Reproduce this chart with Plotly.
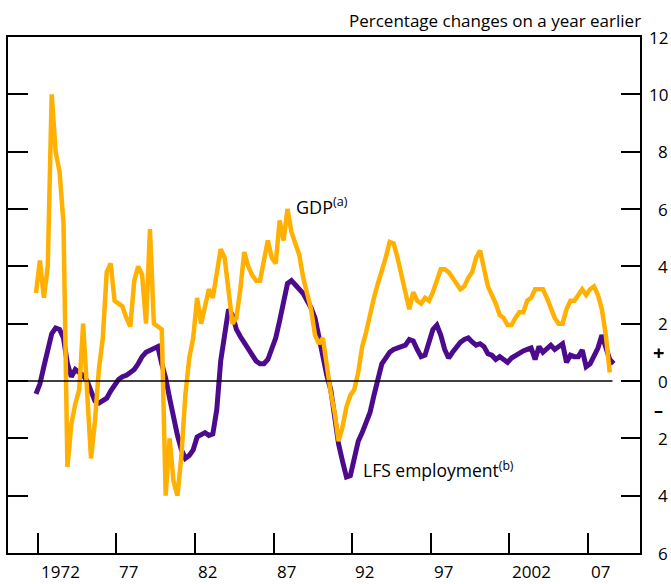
import plotly.graph_objects as go

# Quarterly categories (1972 Q1 onwards)
start_year = 1972
n_gdp = 147
n_emp = 148
quarters = [f"{start_year + i // 4} Q{i % 4 + 1}" for i in range(n_emp)]

# GDP, percentage change on a year earlier
gdp = [3.07, 4.2, 2.9, 4.0, 10.0, 8.0, 7.3, 5.5, -3.0, -1.5,
       -0.8, -0.3, 2.0, -0.5, -2.7, -1.4, 0.4, 1.5, 3.8, 4.1,
       2.8, 2.7, 2.6, 2.2, 1.9, 3.5, 4.0, 3.7, 2.0, 5.3,
       2.0, 1.9, 1.8, -4.0, -2.0, -3.5, -4.0, -2.6, -0.5, 0.8,
       1.5, 2.9, 2.0, 2.6, 3.2, 2.9, 3.8, 4.6, 4.3, 3.2,
       2.0, 2.2, 3.2, 4.5, 4.0, 3.7, 3.5, 3.5, 4.2, 4.9,
       4.3, 4.1, 5.6, 4.9, 6.0, 5.2, 4.8, 4.4, 3.6, 3.0,
       2.5, 1.6, 1.3, 1.5, 0.4, -0.4, -1.1, -2.1, -1.6, -0.9,
       -0.5, -0.3, 0.3, 1.2, 1.7, 2.4, 2.9, 3.4, 3.8, 4.3,
       4.85, 4.8, 4.3, 3.6, 3.1, 2.5, 3.1, 2.8, 2.7, 2.9,
       2.8, 3.1, 3.5, 3.9, 3.9, 3.8, 3.6, 3.4, 3.2, 3.3,
       3.6, 3.8, 4.3, 4.55, 3.9, 3.3, 3.0, 2.7, 2.3, 2.2,
       1.95, 1.95, 2.2, 2.4, 2.4, 2.8, 2.9, 3.2, 3.2, 3.2,
       2.9, 2.5, 2.2, 2.0, 2.0, 2.5, 2.8, 2.8, 3.0, 3.2,
       3.0, 3.2, 3.3, 3.0, 2.5, 1.6, 0.3]

# LFS employment, percentage change on a year earlier
emp = [-0.45, -0.1, 0.5, 1.15, 1.65, 1.85, 1.8, 1.5, 0.6, 0.15,
       0.4, 0.3, 0.2, 0.0, -0.4, -0.7, -0.77, -0.7, -0.6, -0.35,
       -0.15, 0.05, 0.15, 0.2, 0.3, 0.4, 0.6, 0.85, 1.0, 1.08,
       1.15, 1.2, 0.6, 0.1, -0.6, -1.3, -1.9, -2.4, -2.7, -2.6,
       -2.4, -1.95, -1.85, -1.8, -1.9, -1.85, -1.0, 0.7, 1.6, 2.5,
       2.3, 1.8, 1.55, 1.35, 1.1, 0.9, 0.7, 0.6, 0.6, 0.75,
       1.1, 1.5, 2.1, 2.8, 3.4, 3.5, 3.35, 3.2, 3.05, 2.8,
       2.55, 2.2, 1.5, 0.7, 0.2, -0.3, -1.4, -2.2, -2.8, -3.35,
       -3.3, -2.7, -2.1, -1.8, -1.5, -1.1, -0.5, 0.1, 0.6, 0.8,
       1.0, 1.1, 1.15, 1.2, 1.25, 1.45, 1.4, 1.1, 0.85, 0.9,
       1.3, 1.8, 1.95, 1.6, 1.1, 0.8, 1.0, 1.2, 1.35, 1.45,
       1.5, 1.36, 1.25, 1.3, 1.2, 0.95, 0.9, 0.75, 0.85, 0.75,
       0.65, 0.8, 0.9, 1.0, 1.05, 1.1, 1.15, 0.75, 1.2, 1.0,
       1.1, 1.25, 1.1, 1.2, 1.3, 0.65, 0.9, 0.85, 0.85, 1.08,
       0.5, 0.6, 0.9, 1.15, 1.6, 1.1, 0.75, 0.6]

tick_years = [1972, 1977, 1982, 1987, 1992, 1997, 2002, 2007]
tick_labels = ["1972", "77", "82", "87", "92", "97", "2002", "07"]
y_ticks = [-6, -4, -2, 0, 2, 4, 6, 8, 10, 12]
y_labels = [str(abs(v)) for v in y_ticks]


def qpos(label):
    y, q = label.split(" Q")
    return int(y) + (int(q) - 1) * 0.25 - 0.115


x_gdp = [qpos(q) for q in quarters[:n_gdp]]
x_emp = [qpos(q) for q in quarters[:n_emp]]

GDP_COL = "#FFB000"
EMP_COL = "#4B0B8C"
FONT = "Open Sans"
XR = [1970.104, 2010.31]

fig = go.Figure()
fig.add_trace(go.Scatter(x=x_emp, y=emp, mode="lines", name="LFS employment",
                         line=dict(color=EMP_COL, width=5)))
fig.add_trace(go.Scatter(x=x_gdp, y=gdp, mode="lines", name="GDP",
                         line=dict(color=GDP_COL, width=4.5)))
# invisible trace carrying the right-hand axis
fig.add_trace(go.Scatter(x=[XR[0]], y=[0], yaxis="y2", mode="markers",
                         marker=dict(opacity=0), showlegend=False, hoverinfo="skip"))

fig.update_layout(
    width=671, height=584,
    margin=dict(l=8, r=31, t=37, b=31),
    paper_bgcolor="white", plot_bgcolor="white",
    showlegend=False,
    font=dict(family=FONT, size=17, color="black"),
    xaxis=dict(range=XR, showgrid=False, zeroline=False,
               tickvals=tick_years, ticks="inside", ticklen=20, tickwidth=2,
               tickcolor="black", showticklabels=False,
               showline=True, linecolor="black", linewidth=2, mirror=True),
    yaxis=dict(range=[-6, 12], showgrid=False, zeroline=False,
               tickvals=y_ticks, ticks="inside", ticklen=20, tickwidth=2,
               tickcolor="black", showticklabels=False,
               showline=True, linecolor="black", linewidth=2),
    yaxis2=dict(range=[-6, 12], overlaying="y", side="right", showgrid=False,
                zeroline=False, tickvals=y_ticks, ticks="inside", ticklen=19,
                tickwidth=2, tickcolor="black", showticklabels=False,
                showline=True, linecolor="black", linewidth=1.5),
)

# zero line
fig.add_shape(type="line", xref="x", yref="y", x0=XR[0], x1=2008.56, y0=0, y1=0,
              line=dict(color="black", width=1.5))

ann = []
for yr, lab in zip(tick_years, tick_labels):
    ann.append(dict(x=yr, y=0, xref="x", yref="paper", text=lab, showarrow=False,
                    xanchor="left", yanchor="top", xshift=1, yshift=-5,
                    font=dict(size=17)))
for v, lab in zip(y_ticks, y_labels):
    ann.append(dict(x=1, y=v, xref="paper", yref="y", text=lab, showarrow=False,
                    xanchor="right", yanchor="middle", xshift=30,
                    font=dict(size=17)))
ann.append(dict(x=1, y=1, xref="paper", yref="y", text="<b>+</b>", showarrow=False,
                xanchor="center", yanchor="middle", xshift=18,
                font=dict(size=20)))
ann.append(dict(x=1, y=-1, xref="paper", yref="y", text="<b>\u2013</b>", showarrow=False,
                xanchor="center", yanchor="middle", xshift=18,
                font=dict(size=18)))
ann.append(dict(x=1, y=1, xref="paper", yref="paper",
                text="Percentage changes on a year earlier", showarrow=False,
                xanchor="right", yanchor="bottom", xshift=3, yshift=3,
                font=dict(size=17)))
ann.append(dict(x=1988.3, y=6.1, xref="x", yref="y", text="GDP<sup>(a)</sup>",
                showarrow=False, xanchor="left", yanchor="middle",
                font=dict(size=18)))
ann.append(dict(x=1992.55, y=-3.1, xref="x", yref="y",
                text="LFS employment<sup>(b)</sup>",
                showarrow=False, xanchor="left", yanchor="middle",
                font=dict(size=17.5)))
fig.update_layout(annotations=ann)

fig.write_html("out.html",
               config={"displayModeBar": False},
               post_script="document.body.style.margin='0';"
                           "document.body.style.overflow='hidden';")
